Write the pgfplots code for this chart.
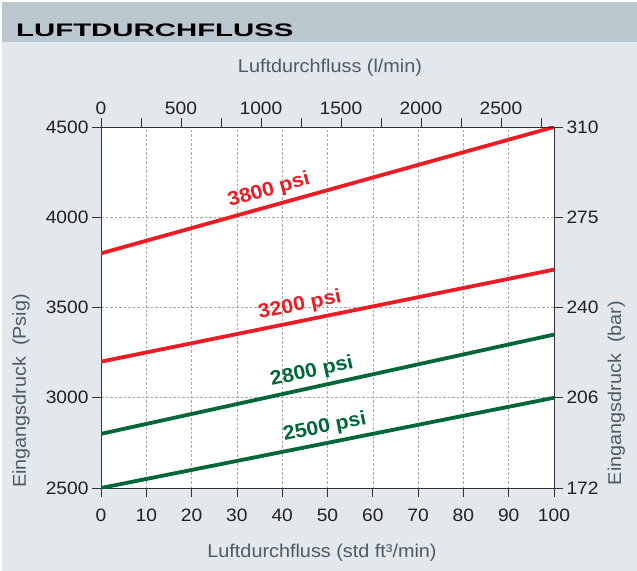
\documentclass[border=0pt]{standalone}
\usepackage{pgfplots}
\pgfplotsset{compat=1.18}
\usepackage{fontspec}
\setmainfont{Liberation Sans}[FakeStretch=1.07]
\newfontfamily\headfont{Liberation Sans}[FakeStretch=1.62]
\definecolor{bgc}{RGB}{227,232,236}
\definecolor{headc}{RGB}{186,199,207}
\definecolor{labc}{RGB}{77,91,102}
\definecolor{tickc}{RGB}{35,31,32}
\definecolor{lred}{RGB}{237,28,36}
\definecolor{lgreen}{RGB}{0,104,56}

\newcommand{\tickfont}{\fontsize{18}{20}\selectfont}
\newcommand{\labfont}{\fontsize{18.6}{21}\selectfont}

\pgfplotsset{
  common/.style={
    scale only axis,
    width=453bp, height=361bp,
    at={(0,0)}, anchor=south west,
    ymin=2500, ymax=4500,
    tick align=outside,
    major tick length=9bp,
    minor tick length=9bp,
    tick style={line width=0.8bp, draw=black!80},
    axis line style={-, line width=0.8bp, draw=black!80},
    tick label style={font=\tickfont, text=tickc},
    /pgf/number format/assume math mode=true,
    /pgf/number format/1000 sep={},
  },
}

\begin{document}
\begin{tikzpicture}
% background panel
\fill[white] (-101bp,-83bp) rectangle (536bp,488bp);
\fill[bgc] (-99bp,-83bp) rectangle (536bp,486bp);
\fill[headc] (-99bp,446bp) rectangle (536bp,486bp);
\node[anchor=base west, inner sep=0pt] at (-85bp,451.3bp)
  {\headfont\fontsize{18.2}{20}\selectfont\bfseries LUFTDURCHFLUSS};

% main axis: std ft3/min vs psig
\begin{axis}[
    common,
    xmin=0, xmax=100,
    axis x line*=bottom, axis y line*=left,
    xtick={0,10,...,100},
    ytick={2500,3000,...,4500},
    xticklabel style={yshift=-8bp},
    grid=major,
    grid style={dash pattern=on 2.5bp off 2bp, gray!70, line width=0.6bp},
    axis background/.style={fill=white},
]
\addplot[lred, line width=3.8bp] coordinates {(0,3800) (100,4500)};
\addplot[lred, line width=3.8bp] coordinates {(0,3200) (100,3710)};
\addplot[lgreen, line width=3.8bp] coordinates {(0,2800) (100,3350)};
\addplot[lgreen, line width=3.8bp] coordinates {(0,2500) (100,3000)};

\node[rotate=15.6, anchor=south, inner sep=6bp, text=lred, font=\fontsize{20}{22}\selectfont\bfseries]
  at (axis cs:38.0,4066) {3800 psi};
\node[rotate=11.5, anchor=south, inner sep=6bp, text=lred, font=\fontsize{20}{22}\selectfont\bfseries]
  at (axis cs:44.6,3427.5) {3200 psi};
\node[rotate=12.4, anchor=south, inner sep=6bp, text=lgreen, font=\fontsize{20}{22}\selectfont\bfseries]
  at (axis cs:47.3,3060) {2800 psi};
\node[rotate=11.3, anchor=south, inner sep=6bp, text=lgreen, font=\fontsize{20}{22}\selectfont\bfseries]
  at (axis cs:50.1,2750.5) {2500 psi};
\end{axis}

% secondary axis: l/min vs bar
\begin{axis}[
    common,
    xmin=0, xmax=2831.7,
    axis x line*=top, axis y line*=right,
    xtick={0,500,...,2500},
    minor xtick={250,750,...,2750},
    ytick={2500,3000,...,4500},
    yticklabels={172,206,240,275,310},
]
\end{axis}

% axis titles
\node[anchor=base, inner sep=0pt, text=labc, font=\labfont] at (229bp,415bp)
  {Luftdurchfluss (l/min)};
\node[anchor=base, inner sep=0pt, text=labc, font=\labfont] at (221bp,-69bp)
  {Luftdurchfluss (std ft³/min)};
\node[anchor=base, rotate=90, inner sep=0pt, text=labc, font=\labfont] at (-75bp,97bp)
  {Eingangsdruck\ \ (Psig)};
\node[anchor=base, rotate=90, inner sep=0pt, text=labc, font=\labfont] at (520bp,95bp)
  {Eingangsdruck\ \ (bar)};
\end{tikzpicture}
\end{document}
